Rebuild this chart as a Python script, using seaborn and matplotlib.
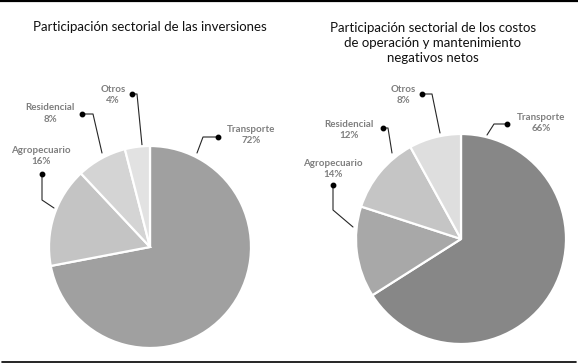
import matplotlib
matplotlib.use("Agg")
import matplotlib.pyplot as plt
import seaborn as sns

# data
sectores = ["Transporte", "Agropecuario", "Residencial", "Otros"]
inversiones = [72, 16, 8, 4]
costos_om = [66, 14, 12, 8]

titulo_izq = "Participación sectorial de las inversiones"
titulo_der = "Participación sectorial de los costos\nde operación y mantenimiento\nnegativos netos"

colores_izq = ["#a0a0a0", "#c4c4c4", "#d4d4d4", "#e2e2e2"]
colores_der = ["#878787", "#a8a8a8", "#c5c5c5", "#dedede"]

sns.set_theme(style="white")
plt.rcParams["font.family"] = ["Lato", "DejaVu Sans"]

W, H = 578, 364
fig = plt.figure(figsize=(W / 100, H / 100), dpi=100)


def pie_axes(cx, cy, r):
    # pixel center (from top) and radius -> axes rect
    return fig.add_axes([(cx - r) / W, (H - cy - r) / H, 2 * r / W, 2 * r / H])


# overlay in pixel coordinates for titles, labels and leader lines
ov = fig.add_axes([0, 0, 1, 1])
ov.set_xlim(0, W)
ov.set_ylim(H, 0)
ov.axis("off")

# label layout: text center, dot, elbow, point on pie edge (pixels)
layout_izq = [
    ((251, 135), (218, 137), (203, 137), (197, 153)),
    ((41, 156), (42, 174), (42, 200), (54, 208)),
    ((50, 113.5), (82, 114), (93, 114), (102, 153)),
    ((113, 95), (132, 94), (137, 94), (142, 145)),
]
layout_der = [
    ((541, 123), (507, 124), (494, 124), (487, 135)),
    ((333, 169), (333, 185), (333, 210), (353, 227)),
    ((349, 130), (383, 128), (388, 128), (392, 153)),
    ((403, 95), (422, 94), (432, 94), (440, 133)),
]

panels = [
    (inversiones, colores_izq, (150, 247, 101), titulo_izq, (150, 27), layout_izq),
    (costos_om, colores_der, (461, 239, 105), titulo_der, (433, 43), layout_der),
]

for valores, colores, (cx, cy, r), titulo, tpos, layout in panels:
    ax = pie_axes(cx, cy, r)
    ax.pie(valores, colors=colores, startangle=90, counterclock=False,
           wedgeprops=dict(edgecolor="white", linewidth=1.6))
    ax.set_xlim(-1.0, 1.0)
    ax.set_ylim(-1.0, 1.0)
    ax.set_aspect("equal")
    ax.axis("off")

    ov.text(tpos[0], tpos[1], titulo, ha="center", va="center",
            fontsize=9.5, color="#111111", linespacing=1.3)

    for nombre, v, (txt, dot, elbow, edge) in zip(sectores, valores, layout):
        ov.text(txt[0], txt[1], f"{nombre}\n{v}%", ha="center", va="center",
                fontsize=7, fontweight="bold", color="#7f7f7f", linespacing=1.35)
        ov.plot([dot[0], elbow[0], edge[0]], [dot[1], elbow[1], edge[1]],
                color="#262626", lw=0.8)
        ov.plot(dot[0], dot[1], "o", color="black", ms=3.2)

# rules above and below
ov.plot([0, W], [1.2, 1.2], color="black", lw=1.6, clip_on=False)
ov.plot([2, W - 2], [362, 362], color="black", lw=1.2, clip_on=False)

fig.savefig("out.png", dpi=100)
